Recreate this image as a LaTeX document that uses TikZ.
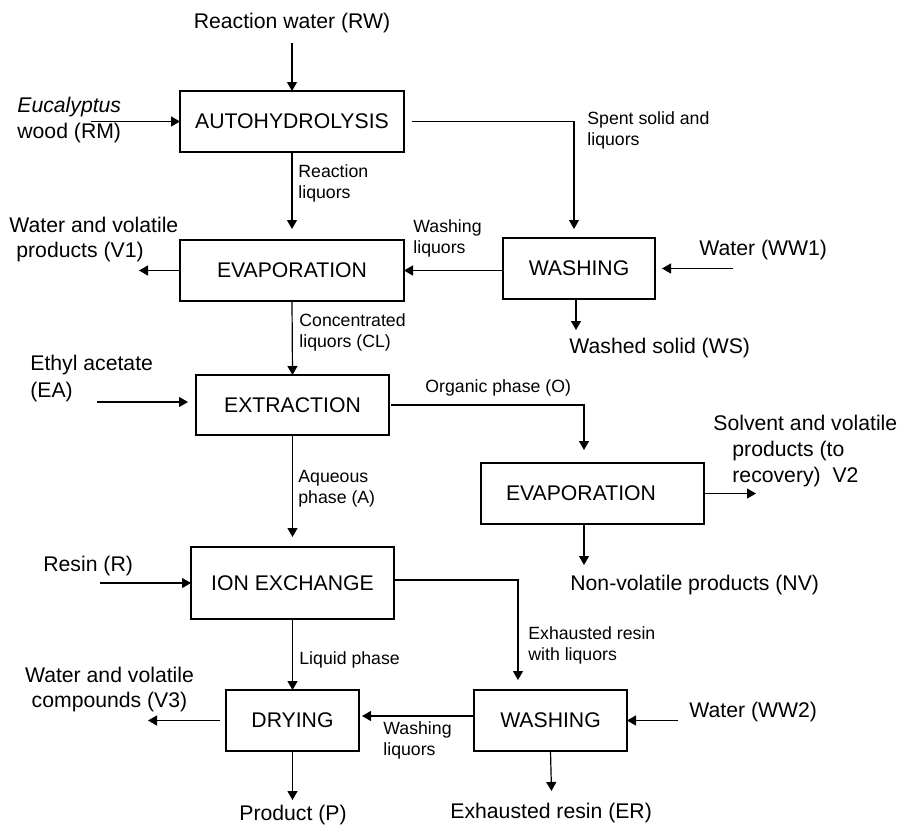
\documentclass[tikz,border=0pt]{standalone}
\usepackage{fontspec}
\setmainfont{Liberation Sans}
\usetikzlibrary{arrows.meta,calc}
\newcommand\lgfont{\fontsize{10.6pt}{12.5pt}\selectfont}
\newcommand\smfont{\fontsize{8.85pt}{10.5pt}\selectfont}
\tikzset{
  box/.style={draw, line width=0.6pt, inner sep=0pt, outer sep=0pt, font=\lgfont, minimum height=30.5pt},
  arr/.style={draw, line width=0.6pt, -{Triangle[length=4.5pt,width=5pt]}},
  lbl/.style={inner sep=0pt, font=\lgfont, align=left, anchor=west},
  slbl/.style={inner sep=0pt, font=\smfont, align=left, anchor=west},
}
\begin{document}
\begin{tikzpicture}[x=0.5pt, y=-0.5pt]
\useasboundingbox (0,0) rectangle (900,825);
% boxes
\node[box, minimum width=112pt] (auto) at (292,121.5) {AUTOHYDROLYSIS};
\node[box, minimum width=112pt] (evap1) at (292,270.5) {EVAPORATION};
\node[box, minimum width=76pt] (wash1) at (579,268.5) {WASHING};
\node[box, minimum width=96.5pt, minimum height=30pt] (extr) at (292.5,405) {EXTRACTION};
\node[box, minimum width=111.5pt] (evap2) at (592.5,493.5) {EVAPORATION\hspace*{11.5pt}};
\node[box, minimum width=101.5pt, minimum height=36pt] (ion) at (292.5,583) {ION EXCHANGE};
\node[box, minimum width=66.5pt] (dry) at (292.5,720.5) {DRYING};
\node[box, minimum width=76.5pt] (wash2) at (550.5,720.5) {WASHING};
% labels
\node[lbl, anchor=center] (rw) at (292,23) {Reaction water (RW)};
\node[lbl, font=\fontsize{10.6pt}{13pt}\selectfont] (rm) at (17,120) {\textit{Eucalyptus}\\wood (RM)};
\node[slbl] (rl) at (298,183.5) {Reaction\\liquors};
\node[lbl] (v1) at (9,239.5) {Water and volatile\\\hspace*{3.5pt}products (V1)};
\node[slbl] (wl1) at (413,238) {Washing\\liquors};
\node[slbl] (ssl) at (587,130) {Spent solid and\\liquors};
\node[lbl] (ww1) at (699,250) {Water (WW1)};
\node[lbl] (ws) at (569,348) {Washed solid (WS)};
\node[slbl] (cl) at (299,332.5) {Concentrated\\liquors (CL)};
\node[lbl, font=\fontsize{10.6pt}{13.5pt}\selectfont] (ea) at (30,378.5) {Ethyl acetate\\(EA)};
\node[slbl] (op) at (425,388) {Organic phase (O)};
\node[slbl] (ap) at (298,488.5) {Aqueous\\phase (A)};
\node[lbl, font=\fontsize{10.6pt}{13pt}\selectfont] (v2) at (713,451.5) {Solvent and volatile\\\hspace*{9.5pt}products (to\\\hspace*{9.5pt}recovery)\ \ V2};
\node[lbl] (nv) at (570,585) {Non-volatile products (NV)};
\node[lbl] (r) at (43,566) {Resin (R)};
\node[slbl] (erl) at (528,645) {Exhausted resin\\with liquors};
\node[lbl] (ww2) at (689,712) {Water (WW2)};
\node[slbl] (lp) at (299,660) {Liquid phase};
\node[lbl, align=center, anchor=center] (v3) at (109.5,689.5) {Water and volatile\\compounds (V3)};
\node[slbl] (wl2) at (383,740.5) {Washing\\liquors};
\node[lbl] (er) at (450,813) {Exhausted resin (ER)};
\node[lbl] (p) at (239,815) {Product (P)};
% free ends
\coordinate (rwS) at (292,43);
\coordinate (rmE) at (91,121.5);
\coordinate (v1a) at (139,270.5);
\coordinate (ww1a) at (733,268.5);
\coordinate (wsa) at (576,330);
\coordinate (eaa) at (97,402);
\coordinate (v2a) at (756,493.5);
\coordinate (nva) at (584,565);
\coordinate (ra) at (100,583);
\coordinate (ww2a) at (678,720.5);
\coordinate (v3a) at (148,720.5);
\coordinate (pa) at (292.5,800);
\coordinate (era) at (551.5,791);
% connectors
\draw[arr] (rwS) -- (auto.north);
\draw[arr] (rmE) -- (auto.west);
\draw[arr, shorten >=5.5pt] (auto.south) -- (evap1.north);
\draw[arr, shorten <=4pt, shorten >=4.5pt] (auto.east) -| ([xshift=-2.5pt]wash1.north);
\draw[arr] (evap1.west) -- (v1a);
\draw[arr] (wash1.west |- evap1.east) -- (evap1.east);
\draw[arr, shorten >=3.5pt] (ww1a) -- (wash1.east);
\draw[arr] ([xshift=-1.5pt]wash1.south) -- (wsa);
\draw[arr] (evap1.south) -- (extr.north);
\draw[arr, shorten >=4pt] (eaa) -- (eaa -| extr.west);
\draw[arr, shorten <=1pt, shorten >=6.5pt] (extr.east) -| ([xshift=-4.25pt]evap2.north);
\draw[arr, shorten >=5pt] (extr.south) -- (ion.north);
\draw[arr] (evap2.east) -- (v2a);
\draw[arr] ([xshift=-4.25pt]evap2.south) -- (nva);
\draw[arr] (ra) -- (ion.west);
\draw[arr, shorten <=0.5pt, shorten >=5pt] ([yshift=1.5pt]ion.east) -| ([xshift=-16.25pt]wash2.north);
\draw[arr] (ion.south) -- (dry.north);
\draw[arr] (ww2a) -- (wash2.east);
\draw[arr, shorten >=1.5pt] ([yshift=2.25pt]wash2.west) -- ([yshift=2.25pt]dry.east);
\draw[arr, shorten <=3pt] (dry.west) -- (v3a);
\draw[arr] (dry.south) -- (pa);
\draw[arr] (wash2.south) -- (era);
\end{tikzpicture}
\end{document}
